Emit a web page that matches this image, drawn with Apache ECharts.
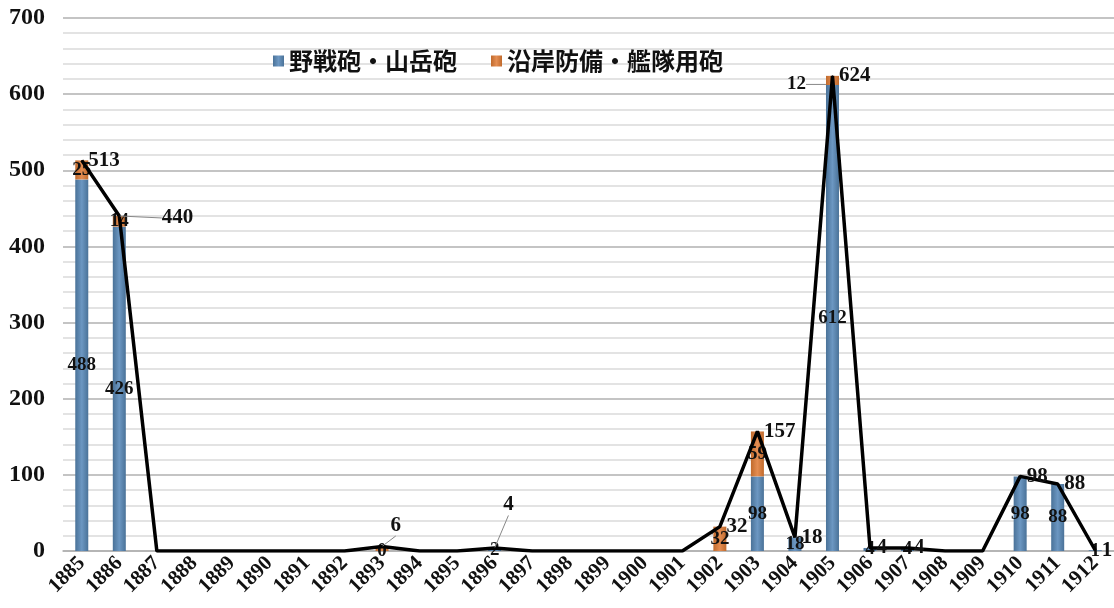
<!DOCTYPE html>
<html>
<head>
<meta charset="utf-8">
<script src="https://cdn.jsdelivr.net/npm/echarts@6/dist/echarts.min.js"></script>
<style>
  html, body { margin: 0; padding: 0; background: #fff; }
  #chart { width: 1114px; height: 608px; }
</style>
</head>
<body>
<div id="chart"></div>
<script>
// 年次
const years = ['1885', '1886', '1887', '1888', '1889', '1890', '1891', '1892', '1893', '1894',
  '1895', '1896', '1897', '1898', '1899', '1900', '1901', '1902', '1903', '1904',
  '1905', '1906', '1907', '1908', '1909', '1910', '1911', '1912'];
// 野戦砲・山岳砲
const fieldGuns = [488, 426, null, null, null, null, null, null, 0, null,
  null, 2, null, null, null, null, null, null, 98, 18,
  612, 4, 4, null, null, 98, 88, 1];
// 沿岸防備・艦隊用砲
const coastGuns = [25, 14, null, null, null, null, null, null, 6, null,
  null, 2, null, null, null, null, null, 32, 59, null,
  12, null, null, null, null, null, null, null];
// 合計
const totals = [513, 440, 0, 0, 0, 0, 0, 0, 6, 0,
  0, 4, 0, 0, 0, 0, 0, 32, 157, 18,
  624, 4, 4, 0, 0, 98, 88, 1];
const yTicks = [0, 100, 200, 300, 400, 500, 600, 700];

// ラベルの位置ずらし（引き出し線付き）
const totalShift = { 1: [36, 2], 8: [2, -21], 11: [2, -43] };
const coastShift = { 20: [-36, 4] };
const coastHidden = [8, 11];

const chart = echarts.init(document.getElementById('chart'));

const serif = 'Liberation Serif, Times New Roman, serif';
const blueGrad = new echarts.graphic.LinearGradient(0, 0, 1, 0, [
  { offset: 0, color: '#4a7298' },
  { offset: 0.5, color: '#6c97c2' },
  { offset: 1, color: '#4a7298' }
]);
const orangeGrad = new echarts.graphic.LinearGradient(0, 0, 1, 0, [
  { offset: 0, color: '#c06a2c' },
  { offset: 0.5, color: '#e48d52' },
  { offset: 1, color: '#c06a2c' }
]);

const labelFont = {
  fontFamily: serif,
  fontWeight: 'bold',
  fontSize: 19,
  color: '#111'
};

const option = {
  animation: false,
  backgroundColor: '#fff',
  grid: { left: 63, right: 0, top: 18, bottom: 57, containLabel: false },
  legend: {
    data: ['野戦砲・山岳砲', '沿岸防備・艦隊用砲'],
    left: 268,
    top: 44,
    itemWidth: 11,
    itemHeight: 11,
    itemGap: 34,
    icon: 'rect',
    textStyle: {
      fontFamily: 'Noto Sans CJK JP',
      fontWeight: 'bold',
      fontSize: 24,
      color: '#111'
    }
  },
  xAxis: {
    type: 'category',
    data: years,
    boundaryGap: true,
    axisLine: { show: true, lineStyle: { color: '#b0b0b0', width: 1.5 } },
    axisTick: { show: false },
    axisLabel: {
      interval: 0,
      rotate: 45,
      margin: 9,
      fontFamily: serif,
      fontWeight: 'bold',
      fontSize: 21,
      color: '#111'
    }
  },
  yAxis: {
    type: 'value',
    min: yTicks[0],
    max: yTicks[yTicks.length - 1],
    interval: 100,
    axisLine: { show: false },
    axisTick: { show: false },
    axisLabel: {
      margin: 18,
      fontFamily: serif,
      fontWeight: 'bold',
      fontSize: 24,
      color: '#111'
    },
    splitLine: { lineStyle: { color: '#b0b0b0', width: 1.5 } },
    minorTick: { show: false, splitNumber: 5 },
    minorSplitLine: { show: true, lineStyle: { color: '#dadada', width: 1.5 } }
  },
  series: [
    {
      name: '野戦砲・山岳砲',
      type: 'bar',
      stack: 'guns',
      barWidth: 13,
      data: fieldGuns,
      itemStyle: { color: blueGrad },
      label: Object.assign({
        show: true,
        position: 'inside',
        formatter: p => (p.value == null ? '' : p.value)
      }, labelFont)
    },
    {
      name: '沿岸防備・艦隊用砲',
      type: 'bar',
      stack: 'guns',
      barWidth: 13,
      data: coastGuns.map((v, i) => {
        if (coastShift[i]) return { value: v, labelLine: { show: true } };
        if (coastHidden.includes(i)) return { value: v, label: { show: false } };
        return v;
      }),
      itemStyle: { color: orangeGrad },
      label: Object.assign({
        show: true,
        position: 'inside',
        formatter: p => (p.value == null ? '' : p.value)
      }, labelFont),
      labelLine: { show: false, lineStyle: { color: '#888', width: 1 } },
      labelLayout: p => {
        const s = coastShift[p.dataIndex];
        return s ? { dx: s[0], dy: s[1] } : {};
      }
    },
    {
      name: '合計',
      type: 'line',
      data: totals.map((v, i) => totalShift[i] ? { value: v, labelLine: { show: true } } : v),
      symbol: 'circle',
      symbolSize: 1,
      showSymbol: true,
      z: 5,
      lineStyle: { color: '#000', width: 3.5 },
      itemStyle: { color: '#000' },
      label: Object.assign({
        show: true,
        position: 'right',
        distance: 6,
        formatter: p => (p.value ? p.value : '')
      }, labelFont, { fontSize: 21 }),
      labelLine: { show: false, lineStyle: { color: '#888', width: 1 } },
      labelLayout: p => {
        const s = totalShift[p.dataIndex];
        return s ? { dx: s[0], dy: s[1] } : {};
      }
    }
  ]
};

chart.setOption(option);
</script>
</body>
</html>
